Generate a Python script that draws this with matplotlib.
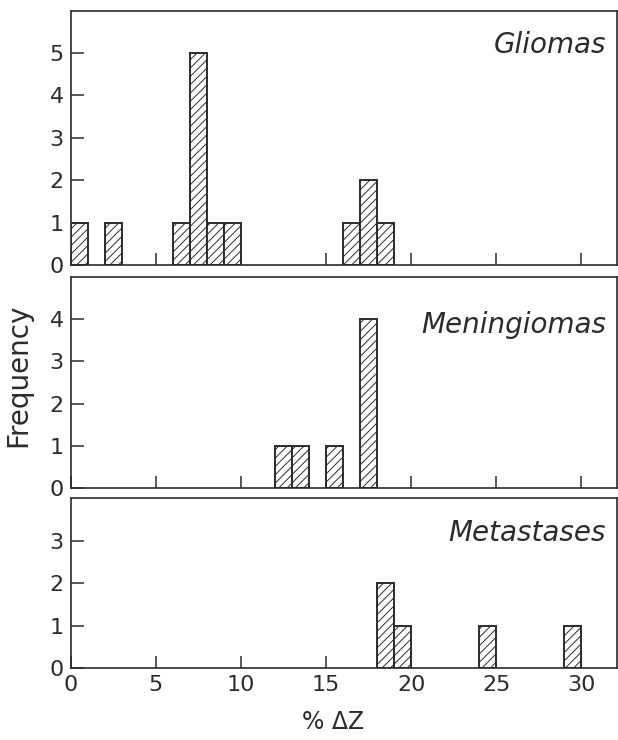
import matplotlib
matplotlib.use("Agg")
import matplotlib.pyplot as plt

# histogram bins (left edge, width 1) and counts per tumour type
glioma_left = [0, 2, 6, 7, 8, 9, 16, 17, 18]
glioma_count = [1, 1, 1, 5, 1, 1, 1, 2, 1]
mening_left = [12, 13, 15, 17]
mening_count = [1, 1, 1, 4]
metast_left = [18, 19, 24, 29]
metast_count = [2, 1, 1, 1]

panel_names = ["Gliomas", "Meningiomas", "Metastases"]
x_ticks = [0, 5, 10, 15, 20, 25, 30]

ink = "#2b2b2b"
plt.rcParams["font.family"] = ["DejaVu Sans"]
plt.rcParams["hatch.linewidth"] = 0.7
plt.rcParams["text.color"] = ink

fig = plt.figure(figsize=(6.18, 7.4), dpi=100)

# axes rectangles [left, bottom, width, height] in figure fraction
rects = [
    [0.1144, 0.6419, 0.884, 0.3436],
    [0.1144, 0.3405, 0.884, 0.2855],
    [0.1144, 0.0973, 0.884, 0.2297],
]
ymaxes = [6, 5, 4]
name_y = [0.865, 0.77, 0.795]
data = [(glioma_left, glioma_count), (mening_left, mening_count), (metast_left, metast_count)]

for i, (rect, (left, count)) in enumerate(zip(rects, data)):
    ax = fig.add_axes(rect)
    ax.bar(left, count, width=1, align="edge", facecolor="white",
           edgecolor=ink, hatch="////", linewidth=1.4)
    ax.set_xlim(0, 32.1)
    ax.set_ylim(0, ymaxes[i])
    ax.set_yticks(range(ymaxes[i]))
    ax.set_xticks(x_ticks)
    ax.tick_params(direction="in", length=9, width=1.1, colors=ink,
                   labelsize=16, pad=5)
    if i < 2:
        ax.set_xticklabels([])
    for sp in ax.spines.values():
        sp.set_linewidth(1.2)
        sp.set_color(ink)
    ax.text(0.98, name_y[i], panel_names[i], transform=ax.transAxes,
            ha="right", va="center", fontsize=20, style="italic")

fig.text(18 / 618, 1 - 375 / 740, "Frequency", rotation=90,
         ha="center", va="center", fontsize=20)
fig.text(333 / 618, 1 - 722 / 740, "% \u0394Z", ha="center", va="center",
         fontsize=17)

fig.savefig("out.png", dpi=100, facecolor="white")
